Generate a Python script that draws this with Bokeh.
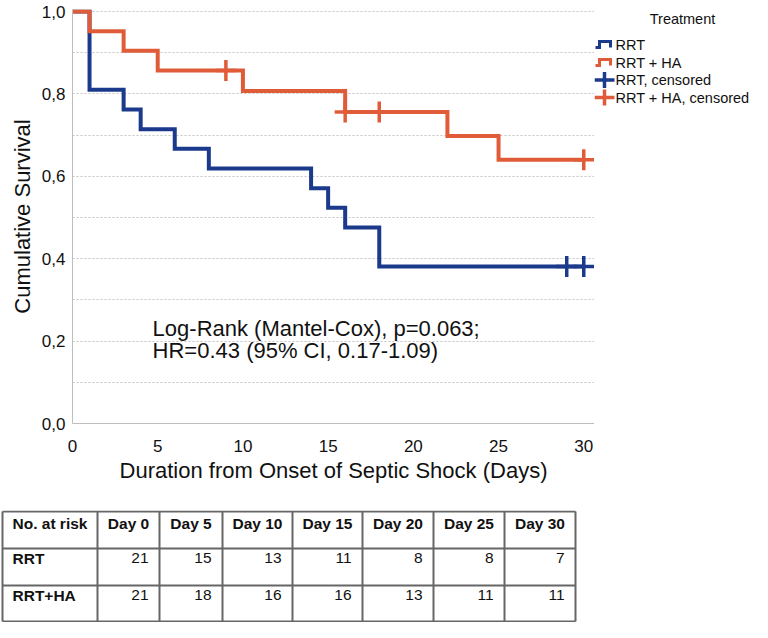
from bokeh.plotting import figure
from bokeh.models import Range1d, FixedTicker, CustomJSTickFormatter
from bokeh.layouts import column, row
from bokeh.embed import file_html
from bokeh.resources import INLINE
from bokeh.core.properties import value

FONT = "Liberation Sans"
BLUE = "#1b3a8c"
ORANGE = "#e05c38"
TXT = "#111111"

# ---------------- data ----------------
rrt_days = [0, 1, 3, 4, 6, 8, 14, 15, 16, 18, 30]
rrt_surv = [1.0, 0.810, 0.762, 0.714, 0.667, 0.619, 0.571, 0.524, 0.476, 0.381, 0.381]
ha_days = [0, 1, 3, 5, 10, 16, 22, 25, 30]
ha_surv = [1.0, 0.952, 0.905, 0.857, 0.807, 0.756, 0.698, 0.640, 0.640]
rrt_cens_days = [29, 30]
rrt_cens_surv = [0.381, 0.381]
ha_cens_days = [9, 16, 18, 30]
ha_cens_surv = [0.857, 0.756, 0.756, 0.640]

x_ticks = [0, 5, 10, 15, 20, 25, 30]
y_ticks = [0.0, 0.2, 0.4, 0.6, 0.8, 1.0]
grid_ticks = [0.1, 0.2, 0.3, 0.4, 0.5, 0.6, 0.7, 0.8, 0.9, 1.0]

stat_lines = ["Log-Rank (Mantel-Cox), p=0.063;", "HR=0.43 (95% CI, 0.17-1.09)"]
legend_title = "Treatment"
legend_labels = ["RRT", "RRT + HA", "RRT, censored", "RRT + HA, censored"]

table_header = ["No. at risk", "Day 0", "Day 5", "Day 10", "Day 15", "Day 20", "Day 25", "Day 30"]
table_groups = ["RRT", "RRT+HA"]
rrt_at_risk = [21, 15, 13, 11, 8, 8, 7]
ha_at_risk = [21, 18, 16, 16, 13, 11, 11]

# ---------------- layout constants ----------------
BL, FW, BR = 72, 522, 0          # chart: left border, frame width, right border
BT, FH, BB = 9, 414, 87          # chart: top border, frame height, bottom border
LW = 752 - (BL + FW + BR)        # legend panel width

# ---------------- chart ----------------
p = figure(frame_width=FW, frame_height=FH,
           min_border_left=BL, min_border_right=BR, min_border_top=BT, min_border_bottom=BB,
           x_range=Range1d(0, 30.63), y_range=Range1d(0, 1.005),
           output_backend="svg", toolbar_location=None)
p.outline_line_color = None

p.xgrid.visible = False
p.ygrid.ticker = FixedTicker(ticks=grid_ticks)
p.ygrid.grid_line_color = "#c4c4c4"
p.ygrid.grid_line_dash = "2 2"
p.ygrid.grid_line_width = 1

p.xaxis.ticker = FixedTicker(ticks=x_ticks)
p.yaxis.ticker = FixedTicker(ticks=y_ticks)
p.yaxis.formatter = CustomJSTickFormatter(code="return tick.toFixed(1).replace('.', ',');")
for ax in (p.xaxis, p.yaxis):
    ax.axis_line_color = "#bdbdbd"
    ax.axis_line_width = 1
    ax.major_tick_line_color = None
    ax.minor_tick_line_color = None
    ax.major_tick_out = 0
    ax.major_tick_in = 0
    ax.minor_tick_out = 0
    ax.minor_tick_in = 0
    ax.major_label_text_font = FONT
    ax.major_label_text_font_size = "17px"
    ax.major_label_text_color = TXT
    ax.axis_label_text_font = FONT
    ax.axis_label_text_font_size = "22px"
    ax.axis_label_text_font_style = "normal"
    ax.axis_label_text_color = TXT
p.xaxis.major_label_standoff = 16
p.yaxis.major_label_standoff = 7
p.xaxis.axis_label = "Duration from Onset of Septic Shock (Days)"
p.yaxis.axis_label = "Cumulative Survival"
p.xaxis.axis_label_standoff = 3
p.yaxis.axis_label_standoff = 4

p.step(rrt_days, rrt_surv, mode="after", line_color=BLUE, line_width=4, line_join="miter")
p.step(ha_days, ha_surv, mode="after", line_color=ORANGE, line_width=4, line_join="miter")
p.scatter(rrt_cens_days, rrt_cens_surv, marker="cross", size=21, line_color=BLUE, line_width=3.5)
p.scatter(ha_cens_days, ha_cens_surv, marker="cross", size=21, line_color=ORANGE, line_width=3.5)

p.text(x=[4.7, 4.7], y=[0.230, 0.177], text=stat_lines, text_font=value(FONT),
       text_font_size="22px", text_baseline="middle", text_align="left", text_color=TXT)

# ---------------- legend (separate panel, pixel coordinates) ----------------
lg = figure(frame_width=LW, frame_height=FH,
            min_border_left=0, min_border_right=0, min_border_top=BT, min_border_bottom=BB,
            x_range=Range1d(0, LW), y_range=Range1d(BT + FH, BT),
            x_axis_type=None, y_axis_type=None,
            output_backend="svg", toolbar_location=None)
lg.grid.visible = False
lg.outline_line_color = None
lg.text(x=[88], y=[18.5], text=[legend_title], text_font=value(FONT), text_font_size="14.5px",
        text_align="center", text_baseline="middle", text_color=TXT)
item_y = [44, 62, 79.5, 97]
colors = [BLUE, ORANGE, BLUE, ORANGE]
for i in range(2):
    yc = item_y[i]
    lg.line(x=[1, 5, 5, 16, 16], y=[yc + 3, yc + 3, yc - 3, yc - 3, yc + 3],
            line_color=colors[i], line_width=3, line_join="miter")
for i in range(2, 4):
    yc = item_y[i]
    lg.segment(x0=[0, 10], y0=[yc, yc - 8], x1=[20, 10], y1=[yc, yc + 8],
               line_color=colors[i], line_width=3.5)
lg.text(x=[21] * 4, y=item_y, text=legend_labels, text_font=value(FONT), text_font_size="14.5px",
        text_align="left", text_baseline="middle", text_color=TXT)

# ---------------- at-risk table ----------------
TW = 752
TH = 622 - (BT + FH + BB)
tb = figure(width=TW, height=TH, x_range=Range1d(0, TW), y_range=Range1d(TH, 0),
            min_border=0, x_axis_type=None, y_axis_type=None,
            output_backend="svg", toolbar_location=None)
tb.grid.visible = False
tb.outline_line_color = None
col_edges = [2, 97, 159, 222, 292, 362, 433, 504, 575]
row_edges = [1, 38, 75, TH - 1]
tb.segment(x0=col_edges, y0=[row_edges[0]] * len(col_edges), x1=col_edges,
           y1=[row_edges[-1]] * len(col_edges), line_color="#666666", line_width=2)
tb.segment(x0=[col_edges[0]] * len(row_edges), y0=row_edges, x1=[col_edges[-1]] * len(row_edges),
           y1=row_edges, line_color="#666666", line_width=2)

FS = "15.5px"
tb.text(x=[col_edges[0] + 10], y=[row_edges[0] + 12], text=[table_header[0]],
        text_font=value(FONT), text_font_size=FS, text_font_style="bold",
        text_align="left", text_baseline="middle", text_color=TXT)
day_centers = [(col_edges[i] + col_edges[i + 1]) / 2 for i in range(1, len(col_edges) - 1)]
tb.text(x=day_centers, y=[row_edges[0] + 12] * len(day_centers), text=table_header[1:],
        text_font=value(FONT), text_font_size=FS, text_font_style="bold",
        text_align="center", text_baseline="middle", text_color=TXT)
row_text_y = [row_edges[1] + 9.5, row_edges[2] + 9.5]
tb.text(x=[col_edges[0] + 10] * 2, y=row_text_y, text=table_groups,
        text_font=value(FONT), text_font_size=FS, text_font_style="bold",
        text_align="left", text_baseline="middle", text_color=TXT)
right_x = [col_edges[i + 1] - 11 for i in range(1, len(col_edges) - 1)]
for vals, yv in ((rrt_at_risk, row_text_y[0]), (ha_at_risk, row_text_y[1])):
    tb.text(x=right_x, y=[yv] * len(vals), text=[str(v) for v in vals],
            text_font=value(FONT), text_font_size=FS,
            text_align="right", text_baseline="middle", text_color=TXT)

layout = column(row(p, lg), tb)
open("out.html", "w").write(file_html(layout, INLINE))
